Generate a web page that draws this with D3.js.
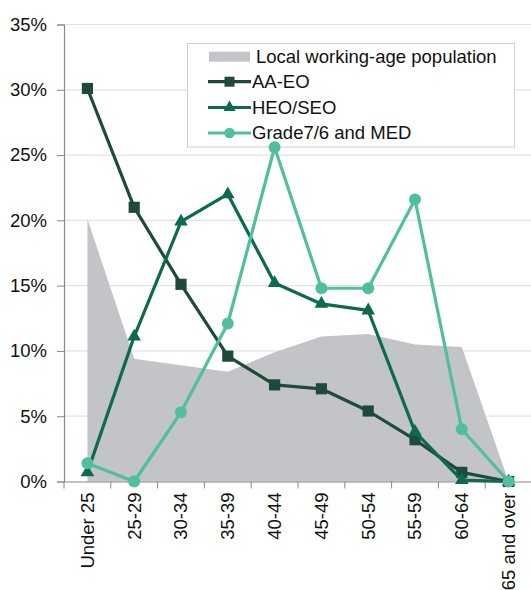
<!DOCTYPE html>
<html>
<head>
<meta charset="utf-8">
<script src="https://cdn.jsdelivr.net/npm/d3@7"></script>
<style>
  body { margin: 0; background: #fff; }
  text { font-family: "Liberation Sans", Arial, sans-serif; fill: #111; }
</style>
</head>
<body>
<script>
var ages = ["Under 25", "25-29", "30-34", "35-39", "40-44", "45-49", "50-54", "55-59", "60-64", "65 and over"];
var population = [20.1, 9.4, 8.9, 8.4, 9.9, 11.1, 11.3, 10.5, 10.3, 0];
var aaeo = [30.1, 21.0, 15.1, 9.6, 7.4, 7.1, 5.4, 3.2, 0.7, 0];
var heoseo = [0.7, 11.1, 19.9, 22.0, 15.2, 13.6, 13.1, 3.8, 0.1, 0];
var grade7 = [1.4, 0, 5.3, 12.1, 25.6, 14.8, 14.8, 21.6, 4.0, 0];
var yTicks = [0, 5, 10, 15, 20, 25, 30, 35];

var width = 531, height = 590;
var margin = {left: 64, right: 0, top: 24.5, bottom: 108.5};

var svg = d3.select("body").append("svg")
    .attr("width", width)
    .attr("height", height);

var x = d3.scaleBand().domain(ages)
    .range([margin.left, 532]);
var y = d3.scaleLinear().domain([0, 35])
    .range([height - margin.bottom, margin.top]);
var cx = function(d, i){ return x(ages[i]) + x.bandwidth() / 2; };

// gridlines
svg.append("g").selectAll("line").data(yTicks.slice(1)).enter().append("line")
    .attr("x1", margin.left).attr("x2", width)
    .attr("y1", function(d){ return y(d); }).attr("y2", function(d){ return y(d); })
    .attr("stroke", "#e2e2e2").attr("stroke-width", 1.2);

// population area
var area = d3.area()
    .x(cx)
    .y0(y(0))
    .y1(function(d){ return y(d); });
svg.append("path").datum(population)
    .attr("d", area)
    .attr("fill", "#c3c4c8");

// axes
var yAxis = svg.append("g")
    .attr("transform", "translate(" + margin.left + ",0)")
    .call(d3.axisLeft(y).tickValues(yTicks).tickSize(7).tickPadding(10)
      .tickFormat(function(d){ return d + "%"; }));
yAxis.selectAll("text").style("font-size", "18.5px");

var xAxis = svg.append("g")
    .attr("transform", "translate(0," + y(0) + ")")
    .call(d3.axisBottom(x).tickSize(0).tickPadding(0));
xAxis.selectAll("text")
    .style("font-size", "18.5px")
    .attr("text-anchor", "end")
    .attr("dy", "0.35em")
    .attr("transform", "translate(0,11) rotate(-90)");
// tick marks at band edges
xAxis.selectAll("line.edge").data(ages).enter().append("line")
    .attr("class", "edge")
    .attr("x1", function(d){ return x(d); }).attr("x2", function(d){ return x(d); })
    .attr("y1", 0).attr("y2", 7)
    .attr("stroke", "#888");
svg.selectAll(".domain").attr("stroke", "#888").attr("stroke-width", 1.2);
svg.selectAll(".tick line").attr("stroke", "#888");

// legend box
var lg = svg.append("g");
lg.append("rect")
    .attr("x", 187.5).attr("y", 43.5).attr("width", 327).attr("height", 103.5)
    .attr("fill", "#fff").attr("stroke", "#d0d0d0");

var series = [
  {name: "AA-EO", values: aaeo, color: "#1d4a3b", symbol: d3.symbolSquare, size: 125},
  {name: "HEO/SEO", values: heoseo, color: "#0b6a4f", symbol: d3.symbolTriangle, size: 80},
  {name: "Grade7/6 and MED", values: grade7, color: "#4fbf9f", symbol: d3.symbolCircle, size: 112}
];

var line = d3.line().x(cx).y(function(d){ return y(d); });

series.forEach(function(s){
  svg.append("path").datum(s.values)
    .attr("d", line)
    .attr("fill", "none")
    .attr("stroke", s.color)
    .attr("stroke-width", 3.2)
    .attr("stroke-linejoin", "round");
  svg.append("g").selectAll("path").data(s.values).enter().append("path")
    .attr("d", d3.symbol().type(s.symbol).size(s.size))
    .attr("transform", function(d, i){ return "translate(" + cx(d, i) + "," + y(d) + ")"; })
    .attr("fill", s.color);
});

// legend entries
var rowY = [56.7, 81.7, 107.5, 133];
lg.append("rect")
    .attr("x", 209).attr("y", rowY[0] - 5).attr("width", 41).attr("height", 10)
    .attr("fill", "#c3c4c8");
lg.append("text").attr("x", 256).attr("y", rowY[0]).attr("dy", "0.35em")
    .style("font-size", "18.5px").text("Local working-age population");
series.forEach(function(s, i){
  var yy = rowY[i + 1];
  lg.append("line")
    .attr("x1", 208).attr("x2", 251).attr("y1", yy).attr("y2", yy)
    .attr("stroke", s.color).attr("stroke-width", 3.2);
  lg.append("path")
    .attr("d", d3.symbol().type(s.symbol).size(s.size * 0.8))
    .attr("transform", "translate(229.5," + yy + ")")
    .attr("fill", s.color);
  lg.append("text").attr("x", 252).attr("y", yy).attr("dy", "0.35em")
    .style("font-size", "18.5px").text(s.name);
});
</script>
</body>
</html>
